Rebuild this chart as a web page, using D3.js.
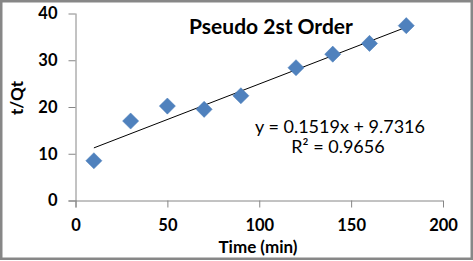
<!DOCTYPE html>
<html>
<head>
<meta charset="utf-8">
<script src="https://cdn.jsdelivr.net/npm/d3@7"></script>
<style>
  body { margin: 0; background: #fff; }
  svg { display: block; font-family: Lato, "Open Sans", sans-serif; }
  .axis path, .axis line { stroke: #868686; }
  .axis text { font-size: 16.5px; font-weight: bold; fill: #000; }
</style>
</head>
<body>
<svg id="chart" width="473" height="261"></svg>
<script>
// Data
const times = [10, 30, 50, 70, 90, 120, 140, 160, 180];
const tOverQt = [8.5, 17.0, 20.2, 19.5, 22.4, 28.4, 31.3, 33.6, 37.4];
const xTicks = [0, 50, 100, 150, 200];
const yTicks = [0, 10, 20, 30, 40];
const fit = { slope: 0.1519, intercept: 9.7316, r2: 0.9656 };

const svg = d3.select('#chart');

// outer frame
svg.append('rect')
  .attr('x', 1.25).attr('y', 1.25)
  .attr('width', 470.5).attr('height', 257.5)
  .attr('fill', '#fff')
  .attr('stroke', '#878787')
  .attr('stroke-width', 2.5);

const margin = { left: 75.5, right: 443, top: 13.5, bottom: 200.5 };

const x = d3.scaleLinear().domain([0, 200]).range([margin.left, margin.right]);
const y = d3.scaleLinear().domain([0, 40]).range([margin.bottom, margin.top]);

// axes
svg.append('g')
  .attr('class', 'axis')
  .attr('transform', `translate(0,${margin.bottom})`)
  .call(d3.axisBottom(x).tickValues(xTicks).tickSizeInner(7).tickSizeOuter(0).tickPadding(12))
  .call(g => g.select('.domain').attr('d', `M${margin.left - 7},0.5H${margin.right}`));

svg.append('g')
  .attr('class', 'axis')
  .attr('transform', `translate(${margin.left},0)`)
  .call(d3.axisLeft(y).tickValues(yTicks).tickSizeInner(7).tickSizeOuter(0).tickPadding(11))
  .call(g => g.select('.domain').attr('d', `M0.5,${margin.top}V${margin.bottom + 7}`));

svg.selectAll('.axis text').attr('font-family', 'Lato, sans-serif');

// trend line
const trendX = [d3.min(times), d3.max(times)];
svg.append('line')
  .attr('x1', x(trendX[0])).attr('y1', y(fit.slope * trendX[0] + fit.intercept))
  .attr('x2', x(trendX[1])).attr('y2', y(fit.slope * trendX[1] + fit.intercept))
  .attr('stroke', '#000')
  .attr('stroke-width', 1);

// markers
const diamond = d3.symbol().type(d3.symbolSquare).size(130);
svg.selectAll('.pt')
  .data(times)
  .join('path')
  .attr('class', 'pt')
  .attr('d', diamond)
  .attr('transform', (d, i) => `translate(${x(d)},${y(tOverQt[i])}) rotate(45)`)
  .attr('fill', '#4F81BD')
  .attr('stroke', '#4A7EBB')
  .attr('stroke-width', 0.5);

// title
svg.append('text')
  .attr('x', 271).attr('y', 34)
  .attr('text-anchor', 'middle')
  .attr('font-size', 21).attr('font-weight', 'bold')
  .text('Pseudo 2st Order');

// equation
svg.append('text')
  .attr('x', 340).attr('y', 133)
  .attr('text-anchor', 'middle')
  .attr('font-size', 18)
  .text(`y = ${fit.slope}x + ${fit.intercept}`);

svg.append('text')
  .attr('x', 338).attr('y', 153)
  .attr('text-anchor', 'middle')
  .attr('font-size', 18)
  .text(`R² = ${fit.r2}`);

// axis titles
svg.append('text')
  .attr('x', 258).attr('y', 253)
  .attr('text-anchor', 'middle')
  .attr('font-size', 17).attr('font-weight', 'bold')
  .text('Time (min)');

svg.append('text')
  .attr('transform', 'translate(23,98) rotate(-90)')
  .attr('text-anchor', 'middle')
  .attr('font-size', 17).attr('font-weight', 'bold')
  .text('t/Qt');
</script>
</body>
</html>
